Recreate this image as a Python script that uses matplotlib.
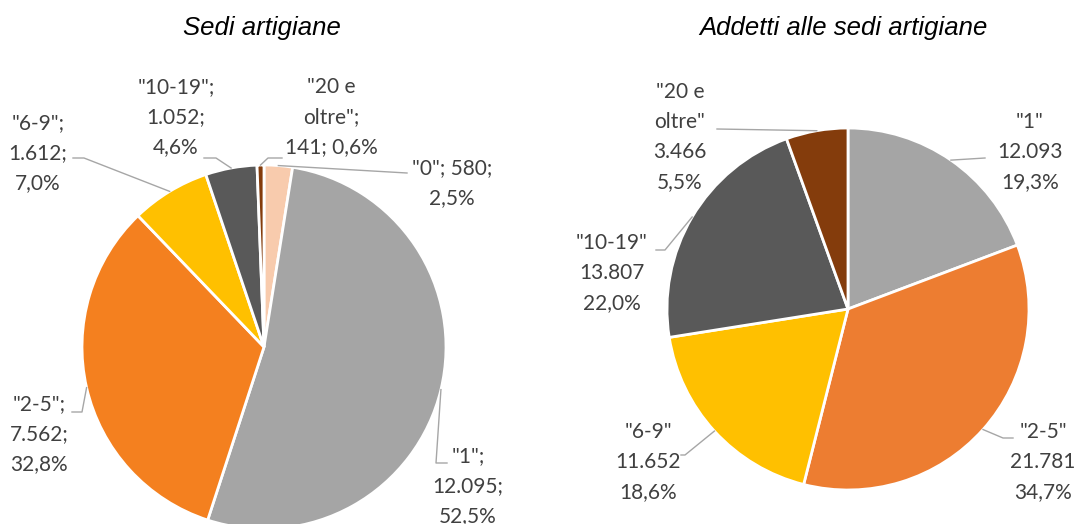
import numpy as np
import matplotlib.pyplot as plt

W, H = 1076, 524

# dati
categorie_sedi = ['"0"', '"1"', '"2-5"', '"6-9"', '"10-19"', '"20 e oltre"']
sedi = [580, 12095, 7562, 1612, 1052, 141]

categorie_addetti = ['"1"', '"2-5"', '"6-9"', '"10-19"', '"20 e oltre"']
addetti = [12093, 21781, 11652, 13807, 3466]

colori_sedi = ['#F8CBAD', '#A5A5A5', '#F4801F', '#FFC000', '#595959', '#843C0C']
colori_addetti = ['#A5A5A5', '#ED7D31', '#FFC000', '#595959', '#843C0C']

# layout in pixel (y dall'alto)
fmt_sedi = ['{c}; {v};\n{p}', '{c};\n{v};\n{p}', '{c};\n{v};\n{p}',
            '{c};\n{v};\n{p}', '{c};\n{v};\n{p}', '{c};\n{v}; {p}']
pos_sedi = [(452, 183), (468, 486), (39, 434), (38, 153), (176, 117), (331, 117)]
linee_sedi = [[(407, 173)], [(436, 463), (447, 463)], [(82, 412), (72, 412)],
              [(84, 158), (73, 158)], [(216, 158), (204, 158)], [(268, 158), (282, 158)]]

fmt_addetti = ['{c}\n{v}\n{p}'] * 5
pos_addetti = [(1030, 152), (1043, 462), (648, 462), (612, 273), (680, 137)]
linee_addetti = [[(985, 158)], [(1003, 438), (1013, 438)], [(685, 455), (681, 455)],
                 [(665, 250), (656, 250)], [(717, 129)]]


def num(v):
    return f'{v:,}'.replace(',', '.')


def perc(v, tot):
    return f'{100 * v / tot:.1f}'.replace('.', ',') + '%'


fig = plt.figure(figsize=(W / 100, H / 100), dpi=100)
ax = fig.add_axes([0, 0, 1, 1])


def torta(valori, categorie, colori, centro, r, formati, posizioni, linee):
    cx, cy = centro
    wedges, _ = ax.pie(valori, colors=colori, startangle=90, counterclock=False,
                       center=(cx, H - cy), radius=r,
                       wedgeprops=dict(edgecolor='white', linewidth=2))
    tot = sum(valori)
    for w, c, v, f, p, ln in zip(wedges, categorie, valori, formati, posizioni, linee):
        mid = np.deg2rad((w.theta1 + w.theta2) / 2)
        x0 = cx + r * np.cos(mid)
        y0 = cy - r * np.sin(mid)
        xs = [x0] + [q[0] for q in ln]
        ys = [H - y0] + [H - q[1] for q in ln]
        ax.plot(xs, ys, color='#A6A6A6', lw=1)
        testo = f.format(c=c.replace('e oltre', 'e\noltre'), v=num(v), p=perc(v, tot))
        ax.text(p[0], H - p[1], testo, ha='center', va='center', multialignment='center',
                fontsize=15, color='#404040', family='Lato', linespacing=1.62)


torta(sedi, categorie_sedi, colori_sedi, (264, 347), 182, fmt_sedi, pos_sedi, linee_sedi)
torta(addetti, categorie_addetti, colori_addetti, (848, 309), 181, fmt_addetti,
      pos_addetti, linee_addetti)

ax.text(262, H - 28, 'Sedi artigiane', ha='center', va='center', fontsize=18.5,
        style='italic', family='Liberation Sans', color='black')
ax.text(843, H - 28, 'Addetti alle sedi artigiane', ha='center', va='center', fontsize=18.5,
        style='italic', family='Liberation Sans', color='black')

ax.set_xlim(0, W)
ax.set_ylim(0, H)
ax.set_aspect('equal')
ax.axis('off')

fig.savefig('out.png', dpi=100)
